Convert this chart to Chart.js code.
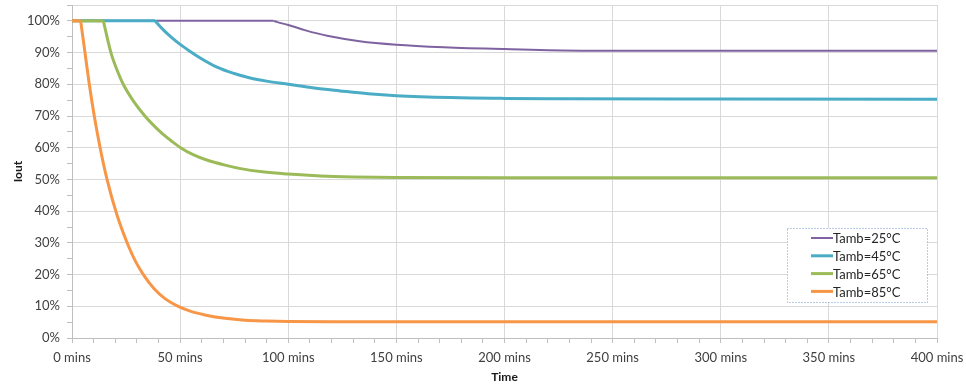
<!DOCTYPE html>
<html>
<head>
<meta charset="utf-8">
<script src="https://cdn.jsdelivr.net/npm/chart.js@4/dist/chart.umd.min.js"></script>
<style>
  html, body { margin: 0; padding: 0; background: #ffffff; }
  #wrap { width: 966px; height: 387px; position: relative; }
</style>
</head>
<body>
<div id="wrap"><canvas id="c" width="966" height="387"></canvas></div>
<script>
// Output current derating curves versus time for four ambient temperatures
const seriesLabels = ['Tamb=25°C', 'Tamb=45°C', 'Tamb=65°C', 'Tamb=85°C'];

const t25 = [0, 93.2, 95, 100, 108, 118, 133, 150, 172, 200, 235, 300, 400];
const v25 = [100, 100, 99.6, 98.7, 97.0, 95.3, 93.6, 92.5, 91.7, 91.1, 90.6, 90.6, 90.6];

const t45 = [0, 38.4, 42, 46, 50, 55, 59.3, 67, 75, 82.4, 90, 100, 112, 124, 137, 150, 175, 200, 227, 300, 400];
const v45 = [100, 100, 97.3, 94.8, 92.6, 90.2, 88.3, 85.4, 83.4, 82.0, 81.0, 80.0, 78.8, 77.9, 77.0, 76.4, 75.8, 75.55, 75.45, 75.35, 75.3];

const t65 = [0, 14.5, 18, 21, 23.7, 28.5, 33.7, 37.5, 41.5, 46, 50.2, 56, 62, 70.8, 78, 88, 100, 115, 130, 150, 200, 400];
const v65 = [100, 100, 90, 84.2, 80, 74.6, 70, 67.2, 64.6, 62.1, 60, 57.8, 56.2, 54.5, 53.4, 52.4, 51.7, 51.1, 50.8, 50.6, 50.5, 50.5];

const t85 = [0, 4, 6, 8, 10.3, 13, 16.2, 20.7, 26.1, 29.5, 33, 38, 43, 48.4, 55, 62, 70.8, 80, 90, 100, 120, 400];
const v85 = [100, 100, 90, 80, 70, 60, 50, 39, 29, 24, 20, 15.5, 12.4, 10.2, 8.4, 7.2, 6.2, 5.6, 5.35, 5.2, 5.1, 5.1];

const xTicks = { min: 0, max: 400, minor: 10, major: 50 };
const yTicks = { min: 0, max: 105, minor: 5, major: 10 };

const colors = ['#7F63A1', '#4BACC6', '#9BBB59', '#F79646'];
const widths = [2, 3, 3, 3];

function pts(ts, vs) { return ts.map((t, i) => ({ x: t, y: vs[i] })); }
const allSeries = [pts(t25, v25), pts(t45, v45), pts(t65, v65), pts(t85, v85)];

// Each curve is drawn as its flat 100% hold (first two points) followed by the
// smooth decay that starts at the second point, so the knee stays sharp.
const datasets = [];
allSeries.forEach((d, i) => {
  const common = {
    label: seriesLabels[i],
    borderColor: colors[i],
    backgroundColor: colors[i],
    borderWidth: widths[i],
    pointRadius: 0,
    fill: false,
    order: 4 - i
  };
  datasets.push(Object.assign({}, common, { data: d.slice(0, 2), tension: 0, isHold: true }));
  datasets.push(Object.assign({}, common, { data: d.slice(1), cubicInterpolationMode: 'monotone' }));
});

const FONT = 'Lato, "Open Sans", "Liberation Sans", sans-serif';
const gridColor = '#D9D9D9';
const axisColor = '#BFBFBF';
const textColor = '#404040';

// Boxed legend drawn inside the plot area
const boxLegend = {
  id: 'boxLegend',
  afterDraw(chart) {
    const ctx = chart.ctx;
    const x0 = 787, y0 = 228, w = 140, h = 74;
    ctx.save();
    ctx.fillStyle = '#ffffff';
    ctx.fillRect(x0, y0, w, h);
    ctx.setLineDash([1, 2]);
    ctx.strokeStyle = '#6F9BD1';
    ctx.lineWidth = 1;
    ctx.strokeRect(x0 + 0.5, y0 + 0.5, w, h);
    ctx.setLineDash([]);
    ctx.font = '13px ' + FONT;
    ctx.textBaseline = 'middle';
    ctx.textAlign = 'left';
    seriesLabels.forEach((label, i) => {
      const y = y0 + 10 + i * 17.8;
      ctx.strokeStyle = colors[i];
      ctx.lineWidth = widths[i];
      ctx.beginPath();
      ctx.moveTo(x0 + 24, y);
      ctx.lineTo(x0 + 46, y);
      ctx.stroke();
      ctx.fillStyle = '#262626';
      ctx.fillText(label, x0 + 46, y + 1);
    });
    ctx.restore();
  }
};

new Chart(document.getElementById('c'), {
  type: 'line',
  data: { datasets },
  options: {
    responsive: false,
    animation: false,
    events: [],
    layout: { padding: { left: 0, right: 29, top: 5, bottom: 0 } },
    plugins: { legend: { display: false }, tooltip: { enabled: false } },
    scales: {
      x: {
        type: 'linear',
        min: xTicks.min,
        max: xTicks.max,
        afterFit(s) { s.height = 49; s.paddingLeft = 0; s.paddingRight = 0; },
        border: { display: true, color: axisColor, width: 1 },
        grid: {
          color: c => (c.tick && c.tick.value % xTicks.major === 0) ? gridColor : 'rgba(0,0,0,0)',
          tickColor: axisColor,
          tickLength: 5,
          drawTicks: true
        },
        ticks: {
          stepSize: xTicks.minor,
          autoSkip: false,
          maxRotation: 0,
          padding: 7,
          color: textColor,
          font: { family: FONT, size: 13 },
          callback: v => (v % xTicks.major === 0) ? v + ' mins' : ''
        },
        title: {
          display: true,
          text: 'Time',
          color: '#1a1a1a',
          font: { family: FONT, size: 12, weight: 'bold' },
          padding: { top: 0, bottom: 3 }
        }
      },
      y: {
        type: 'linear',
        min: yTicks.min,
        max: yTicks.max,
        afterFit(s) { s.width = 72; s.paddingTop = 0; s.paddingBottom = 0; },
        border: { display: true, color: axisColor, width: 1 },
        grid: {
          color: c => (c.tick && (c.tick.value % yTicks.major === 0 || c.tick.value === yTicks.max)) ? gridColor : 'rgba(0,0,0,0)',
          tickColor: axisColor,
          tickLength: 5,
          drawTicks: true
        },
        ticks: {
          stepSize: yTicks.minor,
          autoSkip: false,
          padding: 7,
          color: textColor,
          font: { family: FONT, size: 13 },
          callback: v => (v % yTicks.major === 0) ? v + '%' : ''
        },
        title: {
          display: true,
          text: 'Iout',
          color: '#1a1a1a',
          font: { family: FONT, size: 12, weight: 'bold' },
          padding: { top: 11, bottom: 0 }
        }
      }
    }
  },
  plugins: [boxLegend]
});
</script>
</body>
</html>
